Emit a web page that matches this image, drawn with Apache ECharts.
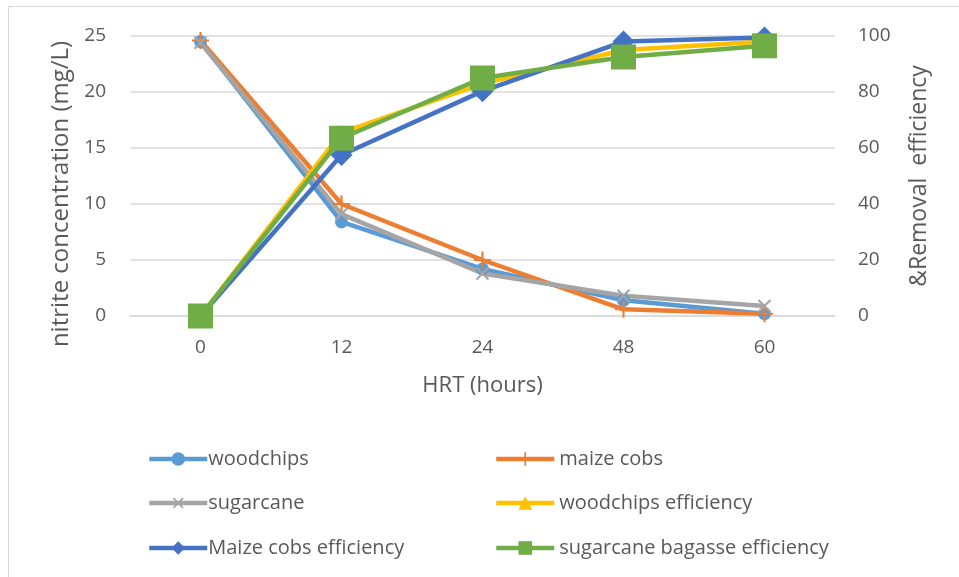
<!DOCTYPE html>
<html>
<head>
<meta charset="utf-8">
<title>Nitrite concentration and removal efficiency vs HRT</title>
<script src="https://cdn.jsdelivr.net/npm/echarts@6/dist/echarts.min.js"></script>
<style>
  html, body { margin: 0; padding: 0; background: #ffffff; }
  #chart { width: 959px; height: 577px; }
</style>
</head>
<body>
<div id="chart"></div>
<script>
// Hydraulic retention time (hours)
const hrtCategories = ['0', '12', '24', '48', '60'];

// Nitrite concentration (mg/L), left axis
const woodchips = [24.5, 8.4, 4.2, 1.4, 0.2];
const maizeCobs = [24.6, 10.0, 5.0, 0.6, 0.2];
const sugarcane = [24.4, 9.1, 3.8, 1.8, 0.9];

// Removal efficiency (%), right axis
const woodchipsEfficiency = [0, 65.5, 83, 95, 98];
const maizeCobsEfficiency = [0, 57.5, 80.3, 98, 99.5];
const bagasseEfficiency = [0, 63.5, 85, 92.5, 96.5];

const seriesNames = [
  'woodchips', 'maize cobs', 'sugarcane',
  'woodchips efficiency', 'Maize cobs efficiency', 'sugarcane bagasse efficiency'
];

const FONT = '"Open Sans"';
const TEXT_COLOR = '#595959';
const GRID_COLOR = '#D9D9D9';
const LABEL_SIZE = 19;
const LEGEND_SIZE = 20;
const TITLE_SIZE = 23;

const PLUS = 'path://M5.25,0h1.5v5.25h5.25v1.5h-5.25v5.25h-1.5v-5.25h-5.25v-1.5h5.25z';

function lineSeries(name, data, color, symbol, size, yAxisIndex, rotate) {
  return {
    name: name,
    type: 'line',
    data: data,
    yAxisIndex: yAxisIndex,
    symbol: symbol,
    symbolSize: size,
    symbolRotate: rotate || 0,
    showAllSymbol: true,
    clip: false,
    lineStyle: { color: color, width: 4.5 },
    itemStyle: { color: color, borderWidth: 0, opacity: 1 },
    emphasis: { disabled: true },
    animation: false
  };
}

// One legend block per entry, laid out in two columns and three rows
const legendCols = [147, 494];
const legendRows = [449, 493, 538];
const legends = seriesNames.map(function (name, i) {
  return {
    data: [name],
    left: legendCols[i % 2],
    top: legendRows[Math.floor(i / 2)],
    itemWidth: 58,
    itemHeight: 17,
    itemGap: 0,
    padding: 0,
    selectedMode: false,
    lineStyle: { width: 4.5 },
    textStyle: { fontFamily: FONT, fontSize: LEGEND_SIZE, color: TEXT_COLOR, padding: [0, 0, 0, i % 2 ? 0 : -4] }
  };
});

const chart = echarts.init(document.getElementById('chart'), null, { renderer: 'canvas' });

chart.setOption({
  backgroundColor: '#ffffff',
  animation: false,
  graphic: [{
    type: 'rect',
    shape: { x: 8.5, y: 6.5, width: 1000, height: 1000 },
    style: { fill: 'none', stroke: GRID_COLOR, lineWidth: 1 },
    silent: true
  }],
  legend: legends,
  grid: { left: 130, right: 124, top: 36, bottom: 261, containLabel: false },
  xAxis: {
    type: 'category',
    data: hrtCategories,
    boundaryGap: true,
    name: 'HRT (hours)',
    nameLocation: 'middle',
    nameGap: 59,
    nameTextStyle: { fontFamily: FONT, fontSize: TITLE_SIZE - 1, color: TEXT_COLOR },
    axisLine: { show: true, lineStyle: { color: GRID_COLOR, width: 1.5 } },
    axisTick: { show: false },
    axisLabel: { margin: 22, fontFamily: FONT, fontSize: LABEL_SIZE, color: TEXT_COLOR }
  },
  yAxis: [{
    type: 'value',
    min: 0,
    max: 25,
    interval: 5,
    position: 'left',
    name: 'nitrite concentration (mg/L)',
    nameLocation: 'middle',
    nameRotate: 90,
    nameGap: 53,
    // right padding moves the rotated title slightly down along the axis
    nameTextStyle: { fontFamily: FONT, fontSize: 24, color: TEXT_COLOR, padding: [0, 36, 0, 0] },
    axisLine: { show: false },
    axisTick: { show: false },
    axisLabel: { margin: 24, fontFamily: FONT, fontSize: LABEL_SIZE, color: TEXT_COLOR },
    splitLine: { show: true, lineStyle: { color: GRID_COLOR, width: 1.5 } }
  }, {
    type: 'value',
    min: 0,
    max: 100,
    interval: 20,
    position: 'right',
    name: '&Removal  efficiency',
    nameLocation: 'middle',
    nameRotate: 90,
    nameGap: 73,
    nameTextStyle: { fontFamily: FONT, fontSize: TITLE_SIZE, color: TEXT_COLOR },
    axisLine: { show: false },
    axisTick: { show: false },
    axisLabel: { margin: 23, fontFamily: FONT, fontSize: LABEL_SIZE, color: TEXT_COLOR },
    splitLine: { show: false }
  }],
  series: [
    lineSeries(seriesNames[0], woodchips, '#5B9BD5', 'circle', 13, 0),
    lineSeries(seriesNames[1], maizeCobs, '#ED7D31', PLUS, 17, 0),
    lineSeries(seriesNames[2], sugarcane, '#A5A5A5', PLUS, 17, 0, 45),
    lineSeries(seriesNames[3], woodchipsEfficiency, '#FFC000', 'triangle', 16, 1),
    lineSeries(seriesNames[4], maizeCobsEfficiency, '#4472C4', 'diamond', 22, 1),
    lineSeries(seriesNames[5], bagasseEfficiency, '#70AD47', 'rect', 25, 1)
  ]
});
</script>
</body>
</html>
